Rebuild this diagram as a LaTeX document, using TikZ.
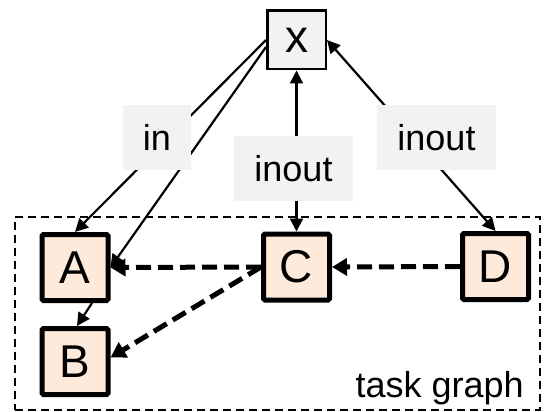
\documentclass[tikz,border=0pt]{standalone}
\usepackage{fontspec}
\setmainfont{Liberation Sans}
\usetikzlibrary{arrows.meta}
\definecolor{taskfill}{HTML}{FDEADA}
\definecolor{datafill}{HTML}{F2F2F2}
\begin{document}
\begin{tikzpicture}[x=1pt,y=-1pt,
  task/.style={draw, line width=5pt, rounded corners=1.5pt, fill=taskfill,
    minimum size=66pt, inner sep=0pt, font=\fontsize{46}{50}\selectfont},
  datum/.style={draw, line width=2.5pt, fill=datafill, minimum size=58.5pt,
    inner sep=0pt, font=\fontsize{46}{50}\selectfont},
  access/.style={fill=datafill, minimum height=65pt, inner xsep=20pt,
    inner ysep=0pt, font=\fontsize{36}{40}\selectfont},
  link/.style={line width=2.2pt, -{Triangle[length=13pt,width=13pt]}},
  twoway/.style={line width=2.2pt, {Triangle[length=13pt,width=13pt]}-{Triangle[length=13pt,width=13pt]}},
  dep/.style={line width=5pt, dash pattern=on 15pt off 7pt,
    -{Triangle[length=15pt,width=17pt]}},
  frame/.style={draw, line width=2pt, dash pattern=on 8pt off 5pt,
    minimum width=525pt, minimum height=193pt, inner sep=0pt},
]
\useasboundingbox (0,0) rectangle (544,412);

% task graph region
\node[frame] (region) at (277.5,313.5) {};
\node[anchor=base east, font=\fontsize{36}{40}\selectfont, inner sep=0pt]
  (caption) at (524,397) {task graph};

% data and tasks
\node[datum] (x) at (296.5,40) {x};
\node[task] (A) at (75,267.5) {A};
\node[task] (B) at (75,361.5) {B};
\node[task] (C) at (296.5,267) {C};
\node[task] (D) at (495.5,266.5) {D};

% data accesses
\draw[link] (x.west) -- (A.north);
\draw[link] ([yshift=-7pt]x.west) -- (A.east);
\draw[twoway] (C.north) -- (x.south);
\draw[twoway] (D.north) -- (x.east);
\draw[link] ([xshift=17pt]A.south) -- ([xshift=2pt]B.north);

% dependencies
\draw[dep] (D.west) -- (C.east);
\draw[dep] (C.west) -- (A.east);
\draw[dep] (C.west) -- ([yshift=4pt]B.east);

% access labels
\node[access] (lin) at (157,137.5) {in};
\node[access] (lmid) at (293.5,168.5) {inout};
\node[access] (lright) at (436.5,137.5) {inout};
\end{tikzpicture}
\end{document}
